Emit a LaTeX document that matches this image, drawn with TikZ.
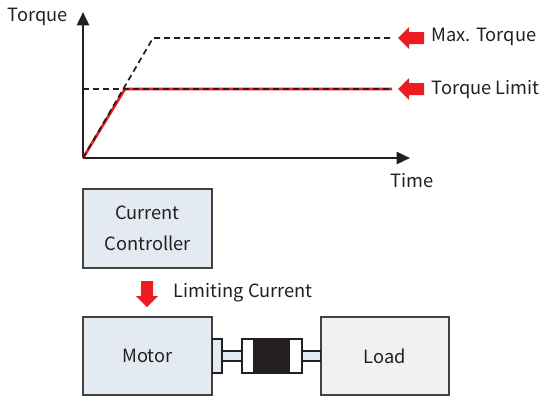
\documentclass[tikz,border=0pt]{standalone}
\usepackage{fontspec}
\setmainfont{Noto Sans CJK KR}
\usetikzlibrary{positioning, arrows.meta}

\definecolor{limitred}{HTML}{ED1C24}
\definecolor{inkgray}{HTML}{231F20}
\definecolor{boxblue}{HTML}{E3EAF2}
\definecolor{boxgray}{HTML}{F1F1F1}

\tikzset{
	unitbox/.style = {draw = inkgray!85, line width = 1.2pt, inner sep = 0pt, align = center},
	axisline/.style = {inkgray, line width = 1.9pt, -{Triangle[length = 10pt, width = 9pt]}},
	dashline/.style = {inkgray, line width = 1.3pt, dash pattern = on 4.5pt off 3pt},
	partline/.style = {draw = inkgray, line width = 1pt},
	fatarrow/.pic = {
		\fill [limitred] (0,0) -- (11,-11) -- (11,-6) -- (26,-6) -- (26,6) -- (11,6) -- (11,11) -- cycle;
	}
}

\begin{document}
\begin{tikzpicture}[x = 0.75pt, y = -0.75pt, font = \fontsize{13.7}{23}\selectfont, text = inkgray]
					\useasboundingbox (0,0) rectangle (542,397);
					\def\xO{83};
					\def\yO{158};
					\def\yMAX{38};
					\def\yLIM{89};
					\def\xEND{392};

					% torque graph
					\begin{scope}
						\coordinate (O) at (\xO,\yO);
						\draw [axisline] (\xO,\yO) -- (\xO,12);
						\draw [axisline] (\xO,\yO) -- (410,\yO);
						\node (torque) at (38,17) {Torque};
						\node (time) at (412,181) {Time};
					\end{scope}

					\begin{scope}
						\draw [limitred, line width = 2pt] (O) -- (125,\yLIM) -- (\xEND,\yLIM);
						\draw [dashline] (O) -- (153,\yMAX) -- (\xEND,\yMAX);
						\draw [dashline] (\xO,\yLIM) -- (\xEND,\yLIM);
					\end{scope}

					\begin{scope}
						\pic at (398,\yMAX) {fatarrow};
						\pic at (398,\yLIM) {fatarrow};
						\node [anchor = west] (maxlabel) at (427,37) {Max. Torque};
						\node [anchor = west] (limlabel) at (427,90) {Torque Limit};
					\end{scope}

					% drive train
					\begin{scope}
						\node [unitbox, fill = boxblue, minimum width = 129*0.75pt, minimum height = 79*0.75pt] (ctrl) at (147.5,228.5) {Current\\Controller};
						\node [unitbox, fill = boxblue, minimum width = 129*0.75pt, minimum height = 78*0.75pt] (motor) at (147.5,356) {Motor};
						\node [unitbox, fill = boxgray, minimum width = 128*0.75pt, minimum height = 78*0.75pt] (load) at (385,356) {Load};
						\pic [rotate = 90] at (147,307) {fatarrow};
						\node [anchor = west] (limcur) at (169,293) {Limiting Current};
					\end{scope}

					\begin{scope}
						\draw [partline, fill = boxblue] (motor.east |- 0,339) rectangle (222,373);
						\draw [partline, fill = boxblue] (222,351) rectangle (242,361);
						\draw [partline, fill = boxblue] (302,351) rectangle (load.west |- 0,361);
						\draw [partline, fill = white] (242,339) rectangle (302,373);
						\fill [inkgray] (253,339) rectangle (290,373);
					\end{scope}
				\end{tikzpicture}
\end{document}
